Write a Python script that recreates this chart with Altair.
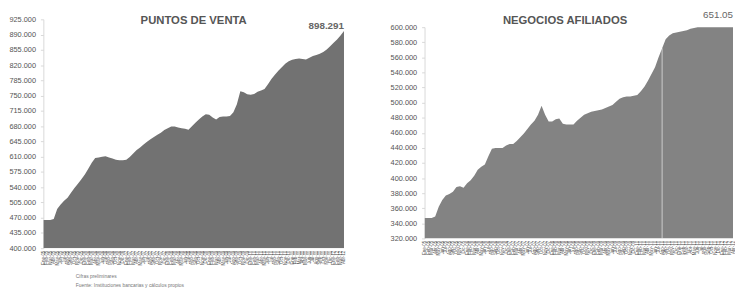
import altair as alt
import pandas as pd

# ---- data -------------------------------------------------------------
meses = ["Ene", "Feb", "Mar", "Abr", "May", "Jun", "Jul", "Ago", "Sep", "Oct", "Nov", "Dic"]
anios = ["05", "06", "07", "08", "09", "10", "11", "12"]
periodos = [f"{m}-{a}" for a in anios for m in meses][:88]

# Puntos de venta (miles)
puntos = [465, 465, 465, 467, 490, 500, 509, 516, 527, 538,
          548, 558, 569, 582, 596, 607, 608, 610, 611, 608,
          606, 603, 602, 602, 603, 609, 617, 625, 631, 638,
          644, 650, 655, 660, 665, 671, 675, 679, 679, 677,
          675, 674, 672, 680, 688, 695, 702, 707, 706, 700,
          695, 701, 702, 702, 703, 712, 730, 760, 758, 753,
          752, 754, 759, 762, 765, 776, 788, 798, 807, 815,
          823, 829, 832, 834, 835, 834, 833, 837, 841, 843,
          846, 850, 856, 863, 871, 879, 888, 898.291]

# Negocios afiliados (miles)
negocios = [347, 347, 347, 349, 362, 371, 377, 379, 382, 388,
            389, 387, 393, 397, 403, 411, 415, 418, 429, 439,
            440, 440, 440, 443, 445, 445, 449, 454, 459, 465,
            471, 476, 484, 496, 484, 475, 475, 478, 479, 472,
            471, 471, 471, 476, 480, 484, 486, 488, 489, 490,
            491, 493, 495, 497, 501, 505, 507, 508, 508, 509,
            510, 515, 521, 529, 538, 547, 560, 572, 584, 589,
            592, 593, 594, 595, 596, 598, 599, 600, 603, 607,
            612, 617, 622, 628, 634, 640, 646, 651.058]

ticks_puntos = [400, 435, 470, 505, 540, 575, 610, 645, 680, 715, 750, 785, 820, 855, 890, 925]
ticks_negocios = [320, 340, 360, 380, 400, 420, 440, 460, 480, 500, 520, 540, 560, 580, 600]

titulo_1 = "PUNTOS DE VENTA"
titulo_2 = "NEGOCIOS AFILIADOS"
ultimo_1 = "898.291"
ultimo_2 = "651.05"
nota_1 = "Cifras preliminares"
nota_2 = "Fuente: Instituciones bancarias y cálculos propios"
corte_negocios = 67  # thin white line in the right chart

FONT = "Liberation Sans"

df1 = pd.DataFrame({"mes": periodos, "valor": puntos})
df2 = pd.DataFrame({"mes": periodos, "valor": negocios})


def x_enc():
    return alt.X(
        "mes:O", sort=periodos,
        scale=alt.Scale(type="point", padding=0),
        axis=alt.Axis(title=None, labelAngle=-90, labelFontSize=4.5, labelColor="#555",
                      labelPadding=2, ticks=False, domain=False, labelOverlap=False,
                      labelFont=FONT),
    )


def y_axis(vals):
    return alt.Axis(title=None, values=vals, labelExpr="format(datum.value, '.3f')",
                    labelFontSize=7.5, labelColor="#555", labelFont=FONT,
                    labelOverlap=False, grid=False, domainColor="#d8d8d8",
                    tickColor="#d8d8d8", tickSize=3, labelPadding=5)


# ---- left panel ---------------------------------------------------------
W1, H1 = 306, 233
area1 = alt.Chart(df1).mark_area(color="#727272", clip=True).encode(
    x=x_enc(),
    y=alt.Y("valor:Q", scale=alt.Scale(domain=[400, 925], zero=False, nice=False),
            axis=y_axis(ticks_puntos)),
    y2=alt.datum(400),
)
tit1 = alt.Chart(pd.DataFrame({"t": [titulo_1]})).mark_text(
    font=FONT, fontSize=11.5, fontWeight="bold", color="#555", align="center",
    baseline="alphabetic").encode(x=alt.value(W1 / 2), y=alt.value(5), text="t:N")
val1 = alt.Chart(pd.DataFrame({"t": [ultimo_1]})).mark_text(
    font=FONT, fontSize=10, fontWeight="bold", color="#666", align="right",
    baseline="alphabetic").encode(x=alt.value(W1), y=alt.value(10), text="t:N")
nota_a = alt.Chart(pd.DataFrame({"t": [nota_1]})).mark_text(
    font=FONT, fontSize=5, color="#777", align="left", baseline="middle").encode(
    x=alt.value(33), y=alt.value(261), text="t:N")
nota_b = alt.Chart(pd.DataFrame({"t": [nota_2]})).mark_text(
    font=FONT, fontSize=5, color="#777", align="left", baseline="middle").encode(
    x=alt.value(33), y=alt.value(270), text="t:N")

left = alt.layer(area1, tit1, val1, nota_a, nota_b).properties(width=W1, height=H1)

# ---- right panel ----------------------------------------------------------
W2, H2 = 314, 223
ysc2 = alt.Scale(domain=[320, 600], zero=False, nice=False, clamp=True, range=[223, 8])
y2_enc = alt.Y("valor:Q", scale=ysc2, axis=y_axis(ticks_negocios))
area2 = alt.Chart(df2).mark_area(color="#838383", clip=True).encode(
    x=x_enc(),
    y=y2_enc,
    y2=alt.datum(320),
)
linea = alt.Chart(df2.iloc[[corte_negocios]]).mark_rule(
    color="white", strokeWidth=1, opacity=0.6).encode(
    x=x_enc(), y=y2_enc, y2=alt.datum(320))
tit2 = alt.Chart(pd.DataFrame({"t": [titulo_2]})).mark_text(
    font=FONT, fontSize=11.5, fontWeight="bold", color="#555", align="center",
    baseline="alphabetic").encode(x=alt.value(143), y=alt.value(5), text="t:N")
val2 = alt.Chart(pd.DataFrame({"t": [ultimo_2]})).mark_text(
    font=FONT, fontSize=10, color="#666", align="right",
    baseline="alphabetic").encode(x=alt.value(W2), y=alt.value(-1), text="t:N")

right = alt.layer(area2, linea, tit2, val2).properties(width=W2, height=H2)

chart = alt.hconcat(left, right, spacing=44).properties(
    padding=0, background="white"
).configure_view(stroke=None)

chart.save("out.html", embed_options={"renderer": "svg", "actions": False})
